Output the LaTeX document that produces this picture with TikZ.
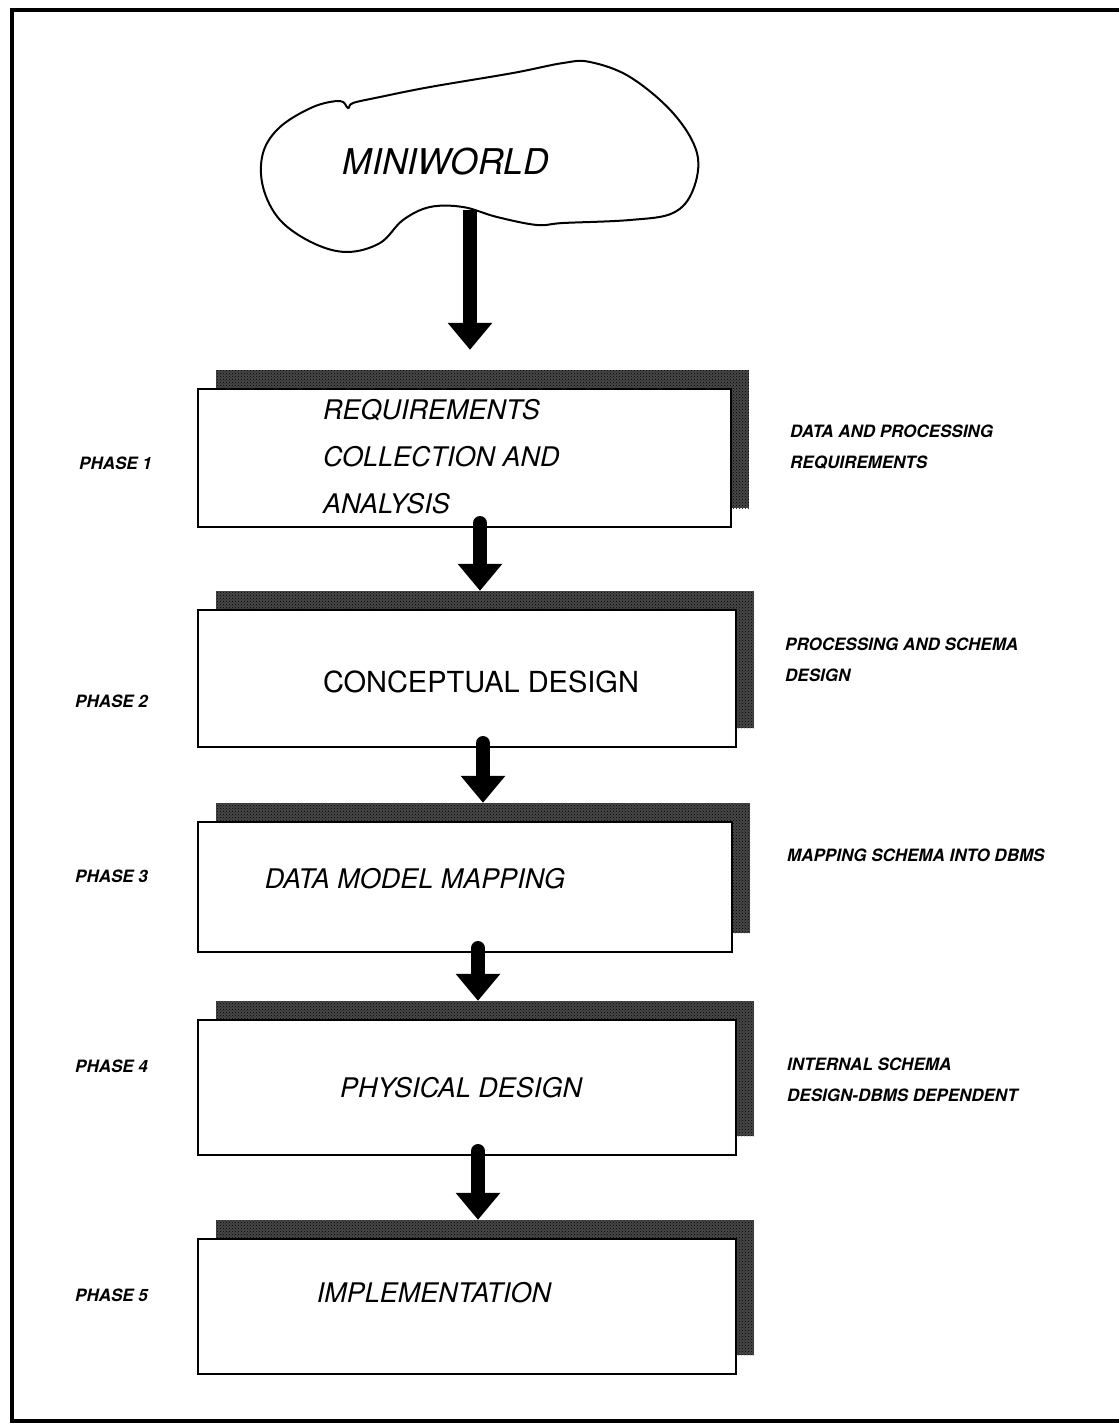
\documentclass[tikz,border=0pt]{standalone}
\usepackage{fontspec}
\setmainfont{TeX Gyre Heros}
\usetikzlibrary{arrows.meta,patterns}
\begin{document}
\begin{tikzpicture}[x=1pt,y=-1pt,
  stepbox/.style={draw=black, line width=2pt, fill=white, inner sep=0pt},
  shadowbox/.style={fill=black!72, postaction={pattern=crosshatch dots, pattern color=black}, inner sep=0pt},
  bigarrow/.style={draw=black, line width=14pt, -{Triangle[length=27pt,width=43pt]}},
  boxtext/.style={inner sep=0pt, font=\fontsize{27}{47}\selectfont\itshape},
  phase/.style={inner sep=0pt, anchor=west, font=\fontsize{17}{20}\selectfont\bfseries\itshape},
  note/.style={inner sep=0pt, anchor=west, align=left, font=\fontsize{17}{31}\selectfont\bfseries\itshape}]
\useasboundingbox (0,0) rectangle (1119,1425);

% outer frame
\draw[line width=4pt] (1119,10) -- (12,10) -- (12,1421) -- (1119,1421);

% the miniworld cloud
\draw[line width=2pt, fill=white] plot[smooth cycle, tension=0.6] coordinates {
  (353,103) (380,97) (430,87) (513,73) (563,63) (590,62) (630,77) (673,113)
  (697,153) (693,190) (673,213) (630,220) (563,223) (537,225) (497,217)
  (463,207) (430,207) (403,220) (380,243) (347,252) (313,243) (280,220)
  (263,187) (263,153) (280,127) (313,107) (340,101) (348,108)};
\node[inner sep=0pt, font=\fontsize{35.5}{38}\selectfont\itshape] (mw) at (446,162) {MINIWORLD};
\coordinate (cloudbot) at (470,210);

% shadows, then the phase boxes on top
\node[shadowbox, minimum width=533pt, minimum height=138pt] (s1) at (482.5,439) {};
\node[shadowbox, minimum width=538pt, minimum height=137pt] (s2) at (485,659.5) {};
\node[shadowbox, minimum width=534pt, minimum height=130pt] (s3) at (483,868) {};
\node[shadowbox, minimum width=538pt, minimum height=135pt] (s4) at (485,1068.5) {};
\node[shadowbox, minimum width=538pt, minimum height=135pt] (s5) at (485,1287.5) {};

\node[stepbox, minimum width=533pt, minimum height=138pt] (b1) at (464.5,458) {};
\node[stepbox, minimum width=538pt, minimum height=137pt] (b2) at (467,678.5) {};
\node[stepbox, minimum width=534pt, minimum height=130pt] (b3) at (465,887) {};
\node[stepbox, minimum width=538pt, minimum height=135pt] (b4) at (467,1087.5) {};
\node[stepbox, minimum width=538pt, minimum height=135pt] (b5) at (467,1306.5) {};

% box texts
\node[boxtext, anchor=west, align=left] (t1) at (323,457) {REQUIREMENTS\\COLLECTION AND\\ANALYSIS};
\node[boxtext, font=\fontsize{29}{47}\selectfont\upshape] (t2) at (481,682) {CONCEPTUAL DESIGN};
\node[boxtext] (t3) at (415,879) {DATA MODEL MAPPING};
\node[boxtext] (t4) at (461,1088) {PHYSICAL DESIGN};
\node[boxtext] (t5) at (434,1293) {IMPLEMENTATION};

% arrows
\draw[bigarrow, line cap=butt] (cloudbot) -- ([xshift=-12.5pt,yshift=20pt]s1.north);
\draw[bigarrow, line cap=round] ([xshift=15.5pt,yshift=5pt]b1.south) -- ([xshift=-5pt]s2.north);
\draw[bigarrow, line cap=round] ([xshift=16pt,yshift=5pt]b2.south) -- ([xshift=0pt]s3.north);
\draw[bigarrow, line cap=round] ([xshift=13pt,yshift=5pt]b3.south) -- ([xshift=-7pt]s4.north);
\draw[bigarrow, line cap=round] ([xshift=11pt,yshift=5pt]b4.south) -- ([xshift=-7pt]s5.north);

% phase labels
\node[phase] (p1) at (79,463) {PHASE 1};
\node[phase] (p2) at (75,701) {PHASE 2};
\node[phase] (p3) at (75,876) {PHASE 3};
\node[phase] (p4) at (75,1066) {PHASE 4};
\node[phase] (p5) at (75,1295) {PHASE 5};

% side notes
\node[note] (r1) at (790,447) {DATA AND PROCESSING\\REQUIREMENTS};
\node[note] (r2) at (785,660) {PROCESSING AND SCHEMA\\DESIGN};
\node[note] (r3) at (787,855) {MAPPING SCHEMA INTO DBMS};
\node[note] (r4) at (787,1080) {INTERNAL SCHEMA\\DESIGN-DBMS DEPENDENT};
\end{tikzpicture}
\end{document}
